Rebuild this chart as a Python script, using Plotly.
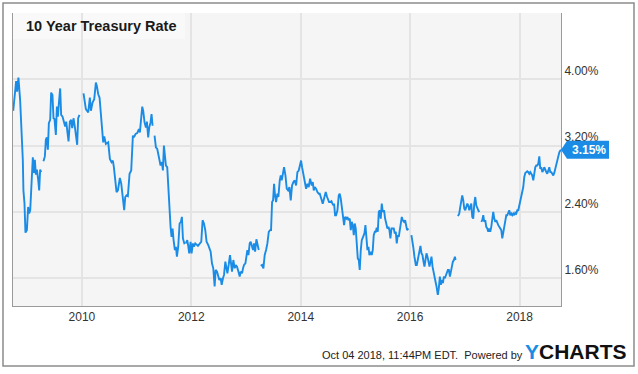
import plotly.graph_objects as go
import pandas as pd

# ---------------- data ----------------
title_text = "10 Year Treasury Rate"
footer_text = "Oct 04 2018, 11:44PM EDT.  Powered by"
brand_first = "Y"
brand_rest = "CHARTS"
y_tick_values = [1.6, 2.4, 3.2, 4.0]
x_tick_years = [2010, 2012, 2014, 2016, 2018]
x_start_year = 2008.741
x_end_year = 2018.757

# decimal years (None value = break in the line)
years = [
    2008.745, 2008.785, 2008.798, 2008.816, 2008.840, 2008.871, 2008.895, 2008.920, 2008.931, 2008.950,
    2008.968, 2008.994, 2009.017, 2009.036, 2009.055, 2009.085, 2009.103, 2009.122, 2009.140, 2009.158,
    2009.177, 2009.201, 2009.219, 2009.237, 2009.255, 2009.275, 2009.297, 2009.323, 2009.341, 2009.359,
    2009.378, 2009.396, 2009.420, 2009.438, 2009.462, 2009.481, 2009.499, 2009.524, 2009.543, 2009.561,
    2009.579, 2009.603, 2009.621, 2009.646, 2009.670, 2009.694, 2009.713, 2009.737, 2009.756, 2009.780,
    2009.804, 2009.823, 2009.847, 2009.871, 2009.896, 2009.914, 2009.932, 2009.956, 2009.995, 2010.030,
    2010.073, 2010.116, 2010.146, 2010.165, 2010.195, 2010.226, 2010.256, 2010.274, 2010.299, 2010.323,
    2010.360, 2010.390, 2010.409, 2010.439, 2010.482, 2010.512, 2010.543, 2010.567, 2010.585, 2010.610,
    2010.634, 2010.659, 2010.695, 2010.720, 2010.744, 2010.774, 2010.793, 2010.817, 2010.841, 2010.872,
    2010.902, 2010.933, 2010.951, 2010.982, 2011.012, 2011.043, 2011.061, 2011.085, 2011.104, 2011.122,
    2011.146, 2011.171, 2011.189, 2011.213, 2011.232, 2011.256, 2011.274, 2011.293, 2011.311, 2011.329,
    2011.354, 2011.378, 2011.409, 2011.439, 2011.463, 2011.482, 2011.500, 2011.518, 2011.537, 2011.561,
    2011.579, 2011.604, 2011.622, 2011.640, 2011.659, 2011.677, 2011.701, 2011.720, 2011.738, 2011.762,
    2011.787, 2011.811, 2011.829, 2011.848, 2011.878, 2011.890, 2011.902, 2011.927, 2011.945, 2011.963,
    2011.988, 2012.006, 2012.030, 2012.049, 2012.073, 2012.098, 2012.122, 2012.159, 2012.183, 2012.207,
    2012.232, 2012.256, 2012.280, 2012.311, 2012.335, 2012.354, 2012.378, 2012.402, 2012.427, 2012.445,
    2012.470, 2012.488, 2012.512, 2012.537, 2012.555, 2012.579, 2012.598, 2012.622, 2012.640, 2012.659,
    2012.683, 2012.707, 2012.726, 2012.744, 2012.768, 2012.793, 2012.811, 2012.835, 2012.860, 2012.884,
    2012.902, 2012.927, 2012.945, 2012.963, 2012.988, 2013.006, 2013.024, 2013.043, 2013.067, 2013.085,
    2013.110, 2013.128, 2013.146, 2013.165, 2013.189, 2013.207, 2013.232, 2013.245, 2013.268, 2013.293,
    2013.317, 2013.341, 2013.366, 2013.390, 2013.415, 2013.439, 2013.457, 2013.476, 2013.494, 2013.512,
    2013.530, 2013.549, 2013.573, 2013.591, 2013.616, 2013.634, 2013.652, 2013.671, 2013.695, 2013.720,
    2013.744, 2013.768, 2013.793, 2013.817, 2013.841, 2013.866, 2013.890, 2013.915, 2013.939, 2013.963,
    2013.988, 2014.006, 2014.024, 2014.049, 2014.073, 2014.098, 2014.122, 2014.146, 2014.171, 2014.201,
    2014.220, 2014.238, 2014.256, 2014.280, 2014.305, 2014.329, 2014.348, 2014.366, 2014.384, 2014.402,
    2014.421, 2014.439, 2014.457, 2014.482, 2014.500, 2014.518, 2014.537, 2014.561, 2014.579, 2014.598,
    2014.610, 2014.628, 2014.646, 2014.671, 2014.695, 2014.713, 2014.732, 2014.756, 2014.774, 2014.793,
    2014.811, 2014.835, 2014.854, 2014.872, 2014.896, 2014.915, 2014.933, 2014.951, 2014.970, 2014.988,
    2015.006, 2015.024, 2015.043, 2015.061, 2015.079, 2015.098, 2015.116, 2015.140, 2015.165, 2015.183,
    2015.201, 2015.220, 2015.238, 2015.256, 2015.280, 2015.299, 2015.317, 2015.335, 2015.354, 2015.372,
    2015.390, 2015.409, 2015.427, 2015.445, 2015.463, 2015.482, 2015.500, 2015.524, 2015.543, 2015.561,
    2015.585, 2015.604, 2015.622, 2015.640, 2015.659, 2015.677, 2015.701, 2015.720, 2015.738, 2015.756,
    2015.774, 2015.793, 2015.811, 2015.829, 2015.848, 2015.866, 2015.890, 2015.909, 2015.927, 2015.945,
    2015.970, 2015.985, 2016.024, 2016.043, 2016.061, 2016.079, 2016.104, 2016.122, 2016.146, 2016.171,
    2016.189, 2016.207, 2016.226, 2016.244, 2016.262, 2016.280, 2016.299, 2016.317, 2016.335, 2016.354,
    2016.372, 2016.390, 2016.409, 2016.427, 2016.445, 2016.463, 2016.482, 2016.506, 2016.524, 2016.543,
    2016.561, 2016.579, 2016.598, 2016.616, 2016.634, 2016.652, 2016.671, 2016.689, 2016.707, 2016.726,
    2016.744, 2016.762, 2016.780, 2016.799, 2016.817, 2016.829, 2016.855, 2016.872, 2016.896, 2016.915,
    2016.933, 2016.951, 2016.970, 2016.988, 2017.006, 2017.024, 2017.043, 2017.061, 2017.079, 2017.098,
    2017.116, 2017.134, 2017.152, 2017.171, 2017.189, 2017.207, 2017.226, 2017.244, 2017.262, 2017.280,
    2017.299, 2017.317, 2017.335, 2017.354, 2017.372, 2017.390, 2017.409, 2017.427, 2017.445, 2017.463,
    2017.482, 2017.500, 2017.518, 2017.537, 2017.555, 2017.573, 2017.591, 2017.610, 2017.628, 2017.646,
    2017.665, 2017.683, 2017.701, 2017.720, 2017.738, 2017.756, 2017.774, 2017.793, 2017.811, 2017.829,
    2017.848, 2017.866, 2017.884, 2017.902, 2017.921, 2017.939, 2017.957, 2017.976, 2017.994, 2018.012,
    2018.030, 2018.049, 2018.067, 2018.085, 2018.104, 2018.122, 2018.140, 2018.159, 2018.177, 2018.195,
    2018.213, 2018.232, 2018.250, 2018.268, 2018.287, 2018.305, 2018.323, 2018.341, 2018.360, 2018.378,
    2018.396, 2018.415, 2018.433, 2018.451, 2018.470, 2018.488, 2018.506, 2018.524, 2018.543, 2018.561,
    2018.579, 2018.598, 2018.616, 2018.634, 2018.652, 2018.671, 2018.689, 2018.707, 2018.726, 2018.744,
    2018.757,
]

rates = [
    3.62, 3.87, 3.98, 3.85, 4.02, 3.75, 3.43, 3.03, 2.66, 2.51,
    2.15, 2.18, 2.46, 2.38, 2.42, 2.79, 3.06, 2.87, 3.03, 2.85,
    2.91, 2.79, 2.66, 2.91, 2.88, None, 3.01, 3.07, 3.27, 3.30,
    3.15, 3.47, 3.51, 3.84, 3.81, 3.53, 3.52, 3.33, 3.67, 3.55,
    3.71, 3.89, 3.57, 3.55, 3.49, 3.43, 3.49, 3.37, 3.25, 3.49,
    3.51, 3.41, 3.53, 3.43, 3.33, 3.21, 3.53, 3.57, None, 3.83,
    3.64, 3.60, 3.78, 3.62, 3.72, 3.76, 3.96, 3.92, 3.82, 3.78,
    3.44, 3.24, 3.31, 3.22, 3.24, 3.04, 3.00, 3.02, 2.94, 2.80,
    2.64, 2.66, 2.81, 2.74, 2.58, 2.42, 2.58, 2.60, 2.59, 2.86,
    2.90, 3.32, 3.30, 3.34, 3.35, 3.40, 3.36, 3.54, 3.67, 3.62,
    3.48, 3.42, 3.49, 3.30, 3.42, 3.48, 3.58, 3.44, None, 3.32,
    3.18, 3.16, 3.04, 2.96, 3.00, 2.90, 3.20, 3.10, 2.96, 2.94,
    2.70, 2.46, 2.22, 2.10, 2.20, 2.06, 1.94, 1.98, 1.86, 1.98,
    2.26, 2.28, 2.34, 2.08, 2.01, None, 2.02, 2.06, 1.99, 1.90,
    2.04, 1.90, 2.02, 1.98, 2.02, 2.00, 1.99, 2.02, 2.04, 2.30,
    2.26, 2.18, 2.04, 2.00, 1.94, 1.92, 1.78, 1.72, 1.50, 1.70,
    1.68, 1.62, 1.58, 1.60, 1.52, 1.60, 1.64, 1.80, 1.70, 1.66,
    1.76, 1.88, 1.78, 1.68, 1.82, 1.72, 1.76, 1.74, 1.68, 1.62,
    1.68, 1.66, 1.72, 1.76, 1.78, 1.88, 1.94, 1.88, 2.02, 2.04,
    1.98, 1.94, 2.02, 1.92, 2.07, 2.02, 1.94, None, 1.75, 1.76,
    1.72, 1.88, 1.94, 2.02, 2.16, 2.18, 2.18, 2.52, 2.54, 2.74,
    2.60, 2.52, 2.62, 2.58, 2.78, 2.84, 2.78, 2.86, 2.94, 2.84,
    2.68, 2.66, 2.70, 2.54, 2.72, 2.76, 2.78, 2.72, 2.88, 2.90,
    2.96, 3.02, 2.94, 2.86, 2.80, 2.68, 2.74, 2.70, 2.80, 2.72,
    2.76, 2.66, 2.70, 2.68, 2.64, 2.62, 2.62, 2.56, 2.54, 2.50,
    2.55, 2.60, 2.64, 2.58, 2.54, 2.52, 2.52, 2.53, 2.50, 2.48,
    2.50, 2.36, 2.36, 2.42, 2.60, 2.62, 2.56, 2.44, 2.30, 2.24,
    2.34, 2.32, 2.34, 2.30, 2.32, 2.18, 2.28, 2.24, 2.12, 2.26,
    2.20, 2.02, 1.84, 1.82, 1.70, 1.94, 2.06, 2.10, 2.14, 2.24,
    2.10, 1.94, 1.98, 1.88, 1.92, 1.88, 1.94, 2.12, 2.16, 2.16,
    2.21, 2.16, 2.40, 2.42, 2.32, 2.50, 2.40, 2.42, 2.32, 2.28,
    2.20, 2.22, 2.18, 2.08, 2.20, 2.20, 2.20, 2.14, 2.16, 2.02,
    2.12, 2.10, 2.20, 2.26, 2.34, 2.30, 2.28, 2.30, 2.24, 2.18,
    2.20, None, 2.12, 2.06, 1.96, 1.86, 1.76, 1.76, 1.84, 1.92,
    1.99, 1.90, 1.88, 1.80, 1.74, 1.82, 1.90, 1.86, 1.78, 1.74,
    1.80, 1.86, 1.74, 1.66, 1.64, 1.56, 1.50, 1.40, 1.48, 1.62,
    1.52, 1.58, 1.54, 1.62, 1.60, 1.64, 1.66, 1.70, 1.70, 1.62,
    1.68, 1.76, 1.80, 1.82, 1.86, 1.82, None, 2.35, 2.38, 2.46,
    2.52, 2.60, 2.54, 2.44, 2.42, 2.46, 2.50, 2.48, 2.42, 2.46,
    2.50, 2.34, 2.32, 2.50, 2.58, 2.48, 2.44, 2.42, 2.40, None,
    2.28, 2.30, 2.36, 2.28, 2.30, 2.22, 2.20, 2.16, 2.20, 2.16,
    2.22, 2.32, 2.40, 2.32, 2.28, 2.30, 2.26, 2.24, 2.22, 2.20,
    2.18, 2.08, 2.16, 2.26, 2.32, 2.36, 2.36, 2.40, 2.42, 2.36,
    2.38, 2.36, 2.38, 2.36, 2.39, 2.38, 2.42, 2.42, 2.48, 2.54,
    2.60, 2.68, 2.70, 2.82, 2.87, 2.88, 2.89, 2.88, 2.86, 2.88,
    2.86, 2.84, 2.78, 2.86, 2.94, 2.96, 2.96, 2.98, 3.07, 2.92,
    2.94, 2.88, 2.90, 2.94, 2.90, 2.88, 2.86, 2.92, 2.94, 2.88,
    2.88, 2.86, 2.84, 2.87, 2.92, 2.98, 3.02, 3.08, 3.12, 3.14,
    3.15,
]

# ---------------- helpers ----------------
def to_ts(y):
    yr = int(y)
    a = pd.Timestamp(yr, 1, 1)
    b = pd.Timestamp(yr + 1, 1, 1)
    return a + (y - yr) * (b - a)

dates = [to_ts(y) for y in years]
last_val = [v for v in rates if v is not None][-1]

BLUE = "#1a8ce6"
FONT = "Liberation Sans, Arial, Helvetica, sans-serif"

W, H = 638, 374
L, R, T, B = 13, 77, 13, 68
pw, ph = W - L - R, H - T - B

def px_x(x):
    return (x - L) / pw

def px_y(y):
    return 1 - (y - T) / ph

fig = go.Figure()
fig.add_trace(go.Scatter(
    x=dates, y=rates, mode="lines",
    line=dict(color=BLUE, width=1.9),
    connectgaps=False, hoverinfo="skip", showlegend=False,
))

fig.update_layout(
    width=W, height=H,
    margin=dict(l=L, r=R, t=T, b=B, pad=0),
    paper_bgcolor="white",
    plot_bgcolor="#f5f5f5",
    font=dict(family=FONT, size=12, color="#333333"),
    showlegend=False,
)

fig.update_xaxes(
    type="date",
    range=[to_ts(x_start_year), to_ts(x_end_year)],
    tickvals=[pd.Timestamp(y, 1, 1) for y in x_tick_years],
    ticktext=[str(y) for y in x_tick_years],
    showgrid=True, gridcolor="#e4e4e4", gridwidth=1.5,
    showline=True, linecolor="#9a9a9a", linewidth=1,
    ticks="", zeroline=False,
    tickfont=dict(size=12, color="#333333"),
)

fig.update_yaxes(
    range=[1.265, 4.80],
    side="right",
    tickvals=y_tick_values,
    ticktext=[f"{v:.2f}%" for v in y_tick_values],
    ticklabelposition="outside top",
    showgrid=True, gridcolor="#e4e4e4", gridwidth=1.5,
    showline=True, linecolor="#9a9a9a", linewidth=1, mirror=True,
    ticks="", zeroline=False,
    tickfont=dict(size=12, color="#333333"),
)

shapes = []
# outer frame
shapes.append(dict(type="rect", xref="paper", yref="paper",
                   x0=px_x(3), x1=px_x(634), y0=px_y(366), y1=px_y(3),
                   line=dict(color="#8c8c8c", width=1.5), fillcolor="rgba(0,0,0,0)",
                   layer="above"))
# title backdrop
shapes.append(dict(type="rect", xref="paper", yref="paper",
                   x0=0, x1=px_x(185), y0=px_y(39), y1=1,
                   line=dict(width=0), fillcolor="rgba(255,255,255,0.45)",
                   layer="between"))
# last-value callout
shapes.append(dict(type="path", xref="paper", yref="y",
                   xsizemode="pixel", ysizemode="pixel",
                   xanchor=1, yanchor=last_val,
                   path="M 0 0 L 6 9 L 48 9 L 48 -9 L 6 -9 Z",
                   fillcolor=BLUE, line=dict(width=0), layer="above"))
fig.update_layout(shapes=shapes)

annotations = [
    dict(text=f"<b>{title_text}</b>", xref="paper", yref="paper",
         x=px_x(24), y=px_y(26), xanchor="left", yanchor="middle",
         showarrow=False, font=dict(family=FONT, size=14.5, color="#1a1a1a")),
    dict(text=f"<b>{last_val:.2f}%</b>", xref="paper", yref="y",
         x=1, y=last_val, xshift=27.5, xanchor="center", yanchor="middle",
         showarrow=False, font=dict(family=FONT, size=12, color="white")),
    dict(text=footer_text, xref="paper", yref="paper",
         x=px_x(525), y=px_y(355), xanchor="right", yanchor="middle",
         showarrow=False,
         font=dict(family=FONT, size=11, color="#222222")),
    dict(text=f"<b><span style='color:{BLUE}'>{brand_first}</span>{brand_rest}</b>",
         xref="paper", yref="paper",
         x=px_x(523), y=px_y(351), xanchor="left", yanchor="middle",
         showarrow=False, font=dict(family=FONT, size=21, color="#111111")),
]
fig.update_layout(annotations=annotations)

fig.write_html(
    "out.html",
    config={"displayModeBar": False},
    post_script="document.body.style.margin='0';document.body.style.overflow='hidden';",
)
